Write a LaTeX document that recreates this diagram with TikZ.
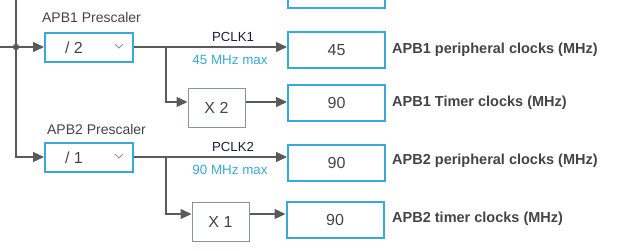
\documentclass[tikz,border=0pt]{standalone}
\usepackage{fontspec}
\setmainfont{Liberation Sans}
\usetikzlibrary{arrows.meta,calc}
\definecolor{cubeblue}{HTML}{3AA8DA}
\definecolor{wiregray}{HTML}{5A5A5A}
\definecolor{boxgray}{HTML}{8C9398}
\definecolor{txtgray}{HTML}{444444}
\definecolor{pclknavy}{HTML}{1C1C3C}

\begin{document}
\begin{tikzpicture}[x=1pt,y=-1pt,line cap=butt,line join=miter,
  wire/.style={draw=wiregray,line width=1.3pt},
  arr/.style={wire,-{Triangle[length=11pt,width=10pt]}},
  prebox/.style={draw=cubeblue,line width=2pt,minimum width=88pt,minimum height=29pt,inner sep=0pt},
  outbox/.style={draw=cubeblue,line width=2pt,minimum width=97pt,minimum height=36pt,inner sep=0pt,
    font=\fontsize{16}{18}\selectfont,text=txtgray},
  mulbox/.style={draw=boxgray,line width=1pt,minimum width=57pt,minimum height=39pt,inner sep=0pt,
    font=\fontsize{16}{18}\selectfont,text=txtgray},
  valtext/.style={font=\fontsize{16}{18}\selectfont,text=txtgray,inner sep=0pt},
  caption/.style={font=\fontsize{14}{16}\selectfont,text=txtgray,inner sep=0pt},
  outlabel/.style={font=\bfseries\fontsize{14.5}{17}\selectfont,text=txtgray,anchor=west,inner sep=0pt},
  pclk/.style={font=\fontsize{13.2}{15}\selectfont,text=pclknavy,inner sep=0pt},
  maxtext/.style={font=\fontsize{13.4}{15}\selectfont,text=cubeblue,inner sep=0pt}]
  \useasboundingbox (0,0) rectangle (635,250);
  \clip (0,0) rectangle (635,250);
  % APB1 prescaler
  \node[prebox] (pre1) at (89,47) {};
  \node[valtext] (pre1v) at (74,47.5) {/ 2};
  \draw[boxgray,line width=0.8pt] (115,44) -- (119,48) -- (123,44);
  \node[caption] (pre1c) at (91.5,17) {APB1 Prescaler};
  % APB2 prescaler
  \node[prebox] (pre2) at (89,157) {};
  \node[valtext] (pre2v) at (74,157.5) {/ 1};
  \draw[boxgray,line width=0.8pt] (115,154) -- (119,158) -- (123,154);
  \node[caption] (pre2c) at (96.5,129) {APB2 Prescaler};
  % outputs
  \draw[draw=cubeblue,line width=2pt] (288,-10) rectangle (385,8);
  \node[outbox] (out1a) at (336.5,50) {45};
  \node[outbox] (out1b) at (336.5,103) {90};
  \node[outbox] (out2a) at (336.5,163) {90};
  \node[outbox] (out2b) at (335,220) {90};
  \node[outlabel] (lab1a) at (392,50) {APB1 peripheral clocks (MHz)};
  \node[outlabel] (lab1b) at (392,103) {APB1 Timer clocks (MHz)};
  \node[outlabel] (lab2a) at (392,161) {APB2 peripheral clocks (MHz)};
  \node[outlabel] (lab2b) at (392,219) {APB2 timer clocks (MHz)};
  % timer multipliers
  \node[mulbox] (mul1) at (216.5,107.5) {X 2};
  \node[mulbox] (mul2) at (220.5,222) {X 1};
  % input trunk
  \coordinate (top) at (16,0);
  \coordinate (in1) at (0,47);
  \coordinate (dot) at (16,47);
  \draw[arr] (top) |- (pre2.west);
  \fill[wiregray] (dot) circle (3.2);
  \draw[arr] (in1) -- (pre1.west);
  % PCLK lines
  \coordinate (br1) at (166,47);
  \coordinate (br2) at (166,157);
  \draw[arr] (pre1.east) -- (pre1.east -| out1a.west);
  \draw[arr] (pre2.east) -- (pre2.east -| out2a.west);
  \node[pclk] (pclk1) at (233,37) {PCLK1};
  \node[maxtext] (max1) at (230,60) {45 MHz max};
  \node[pclk] (pclk2) at (233,147) {PCLK2};
  \node[maxtext] (max2) at (230,170) {90 MHz max};
  % timer branches
  \draw[arr] (br1) |- (mul1.west |- 0,102);
  \draw[arr] (mul1.east |- 0,102) -- (out1b.west |- 0,102);
  \draw[arr] (br2) |- (mul2.west |- 0,214);
  \draw[arr] (mul2.east |- 0,214) -- (out2b.west |- 0,214);
\end{tikzpicture}
\end{document}
